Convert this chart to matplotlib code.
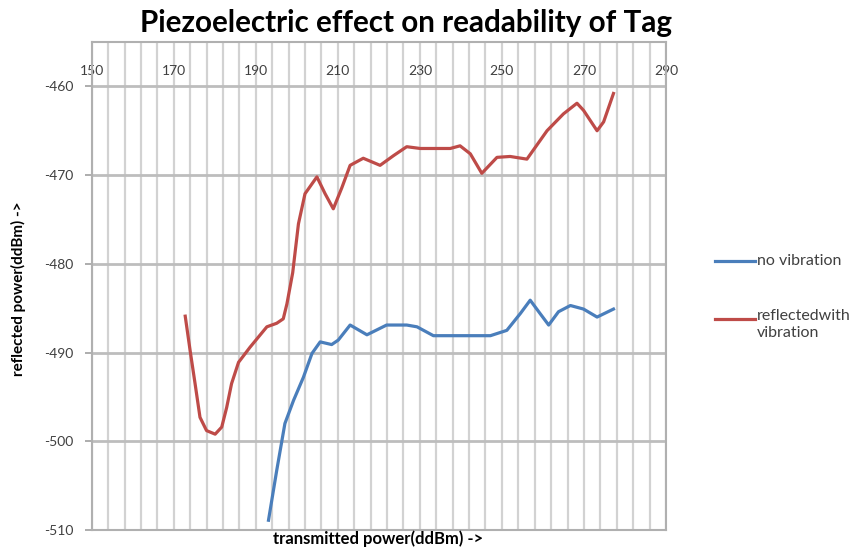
import numpy as np
import matplotlib
matplotlib.use("Agg")
import matplotlib.pyplot as plt
from matplotlib.ticker import FixedLocator
from matplotlib.lines import Line2D

plt.rcParams['font.family'] = ['Lato', 'DejaVu Sans']
plt.rcParams['axes.unicode_minus'] = False

# transmitted power (ddBm) / reflected power (ddBm)
x_no_vib = [193.1, 195.1, 197.1, 199.2, 201.6, 203.7, 205.7, 208.5, 210.1, 213.0,
            217.1, 221.9, 226.8, 229.3, 233.3, 237.4, 247.2, 251.2, 254.5, 256.9,
            259.3, 261.4, 263.8, 266.7, 269.9, 273.2, 277.2]
y_no_vib = [-508.9, -503.3, -498.0, -495.4, -492.8, -490.1, -488.8, -489.1, -488.6, -486.9,
            -488.0, -486.9, -486.9, -487.1, -488.1, -488.1, -488.1, -487.5, -485.6, -484.1,
            -485.6, -486.9, -485.4, -484.7, -485.1, -486.0, -485.1]

x_vib = [172.8, 174.0, 175.2, 176.4, 178.0, 180.1, 181.7, 182.9, 184.1, 185.8,
         188.6, 192.7, 195.1, 196.7, 197.6, 199.0, 200.4, 202.0, 204.9, 206.9,
         208.9, 211.0, 213.0, 216.2, 220.3, 223.6, 226.8, 230.1, 237.4, 239.8,
         242.3, 245.1, 248.8, 252.0, 256.1, 261.0, 265.0, 268.3, 269.9, 273.2,
         274.8, 277.2]
y_vib = [-485.9, -489.8, -493.5, -497.3, -498.8, -499.2, -498.4, -496.2, -493.5, -491.1,
         -489.4, -487.1, -486.7, -486.2, -484.5, -481.0, -475.5, -472.1, -470.2, -472.1,
         -473.8, -471.4, -468.9, -468.1, -468.9, -467.8, -466.8, -467.0, -467.0, -466.7,
         -467.6, -469.8, -468.0, -467.9, -468.2, -465.0, -463.1, -461.9, -462.7, -465.0,
         -464.0, -460.8]

x_labels = np.arange(150, 291, 20)
x_grid = np.arange(150, 291, 4)
y_ticks = np.arange(-510, -459, 10)

blue = "#4a7ebb"
red = "#be4b48"
text_grey = "#404040"

fig = plt.figure(figsize=(8.61, 5.5), dpi=100)
ax = fig.add_axes([0.1065, 0.0364, 0.667, 0.8872])

ax.plot(x_no_vib, y_no_vib, color=blue, lw=2.3, solid_joinstyle="round", zorder=3)
ax.plot(x_vib, y_vib, color=red, lw=2.3, solid_joinstyle="round", zorder=3)

ax.set_xlim(150, 290)
ax.set_ylim(-510, -455)

# vertical grid every 4, labels every 20 drawn just under the top edge
ax.xaxis.set_major_locator(FixedLocator(x_labels))
ax.xaxis.set_minor_locator(FixedLocator(x_grid))
ax.grid(axis="x", which="both", color="#d2d2d2", lw=1.6, zorder=0)
ax.tick_params(axis="x", which="both", bottom=False, labelbottom=False,
               top=False, labeltop=True, length=0, pad=-25,
               labelsize=10, labelcolor=text_grey)

ax.set_yticks(y_ticks)
ax.grid(axis="y", color="#bdbdbd", lw=2, zorder=1)
ax.tick_params(axis="y", direction="out", length=5, width=1.2, color="#a0a0a0",
               pad=8, labelsize=10, labelcolor=text_grey)

for s in ax.spines.values():
    s.set_color("#b0b0b0")
    s.set_linewidth(1.5)

fig.text(0.4715, 0.958, "Piezoelectric effect on readability of Tag",
         ha="center", va="center", fontsize=21.3, fontweight="bold")
fig.text(0.021, 0.476, "reflected power(ddBm) ->", rotation=90,
         ha="center", va="center", fontsize=11, fontweight="bold")
fig.text(0.4396, 0.021, "transmitted power(ddBm) ->",
         ha="center", va="center", fontsize=12, fontweight="bold")

# legend, drawn by hand so the red key sits on the first text line
fig.add_artist(Line2D([0.8304, 0.8769], [0.5255, 0.5255], color=blue, lw=2.3,
                      transform=fig.transFigure))
fig.text(0.8792, 0.5255, "no vibration", ha="left", va="center",
         fontsize=11.5, color=text_grey)
fig.add_artist(Line2D([0.8304, 0.8769], [0.42, 0.42], color=red, lw=2.3,
                      transform=fig.transFigure))
fig.text(0.8792, 0.4385, "reflectedwith\nvibration", ha="left", va="top",
         fontsize=11.5, color=text_grey, linespacing=1.25)

fig.savefig("out.png", dpi=100)
